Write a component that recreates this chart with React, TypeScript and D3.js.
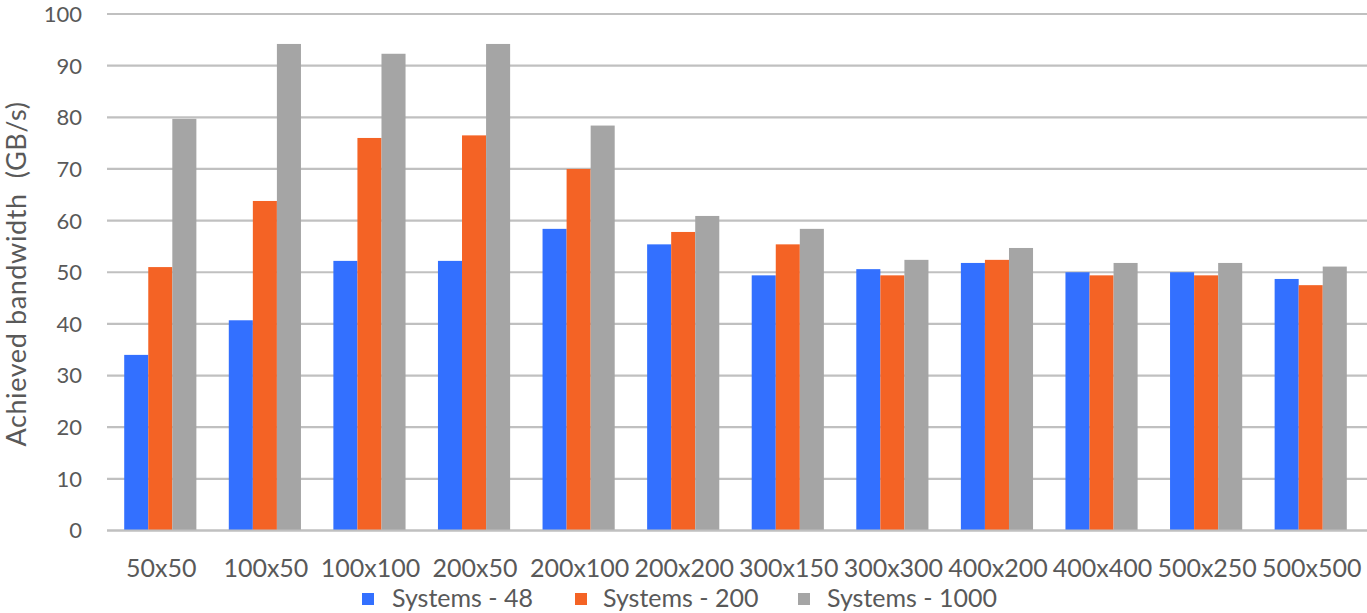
import React from "react";
import * as d3 from "d3";

const categories = ["50x50", "100x50", "100x100", "200x50", "200x100", "200x200", "300x150", "300x300", "400x200", "400x400", "500x250", "500x500"];
const seriesNames = ["Systems - 48", "Systems - 200", "Systems - 1000"];
const systems48 = [34.0, 40.7, 52.2, 52.2, 58.4, 55.4, 49.4, 50.6, 51.8, 50.0, 50.0, 48.7];
const systems200 = [51.0, 63.8, 76.0, 76.5, 70.0, 57.8, 55.4, 49.4, 52.4, 49.4, 49.4, 47.5];
const systems1000 = [79.7, 94.2, 92.3, 94.2, 78.4, 60.9, 58.4, 52.4, 54.7, 51.8, 51.8, 51.1];
const yTicks = [0, 10, 20, 30, 40, 50, 60, 70, 80, 90, 100];
const colors = ["#3370FF", "#F46325", "#A5A5A5"];

const W = 1367;
const H = 613;

export default function App() {
  const values = [systems48, systems200, systems1000];
  const y = d3.scaleLinear().domain([0, 100]).range([530.5, 14]);
  const x0 = d3.scaleBand<string>().domain(categories).range([108, 1363]).padding(0);
  const bw = x0.bandwidth();
  const x1 = d3.scaleBand<string>().domain(seriesNames).range([bw * 0.155, bw * 0.845]).padding(0);
  const font = "Lato, 'Open Sans', sans-serif";
  const textColor = "#595959";
  const legendSquareX = [362, 575, 798];
  const legendTextX = [392, 603, 827];

  return (
    <svg width={W} height={H} style={{ position: "absolute", left: 0, top: 0 }} fontFamily={font}>
      <rect width={W} height={H} fill="#fff" />
      {yTicks.map((t) => (
        <g key={t}>
          <line x1={107} x2={1367} y1={y(t)} y2={y(t)} stroke="#C0C0C0" strokeWidth={2.2} />
          <text x={82} y={y(t)} dy="0.36em" textAnchor="end" fontSize={22} fill={textColor}>{t}</text>
        </g>
      ))}
      {categories.map((c, i) => (
        <g key={c} transform={`translate(${x0(c)},0)`}>
          {seriesNames.map((s, j) => (
            <rect
              key={s}
              x={x1(s)}
              y={y(values[j][i])}
              width={x1.bandwidth()}
              height={y(0) - y(values[j][i])}
              fill={colors[j]}
            />
          ))}
          <text x={bw / 2 + 1} y={577} textAnchor="middle" fontSize={25} fill={textColor}>{c}</text>
        </g>
      ))}
      <line x1={107} x2={1367} y1={y(0)} y2={y(0)} stroke="#C0C0C0" strokeWidth={2.2} />
      <text
        transform={`translate(15,${274}) rotate(-90)`}
        textAnchor="middle"
        dominantBaseline="central"
        fontSize={27}
        letterSpacing={0.6}
        fill={textColor}
        style={{ whiteSpace: "pre" }}
      >
        {"Achieved bandwidth  (GB/s)"}
      </text>
      {seriesNames.map((s, j) => (
        <g key={s}>
          <rect x={legendSquareX[j]} y={593} width={12} height={12} fill={colors[j]} />
          <text x={legendTextX[j]} y={607} fontSize={25} fill={textColor}>{s}</text>
        </g>
      ))}
    </svg>
  );
}
